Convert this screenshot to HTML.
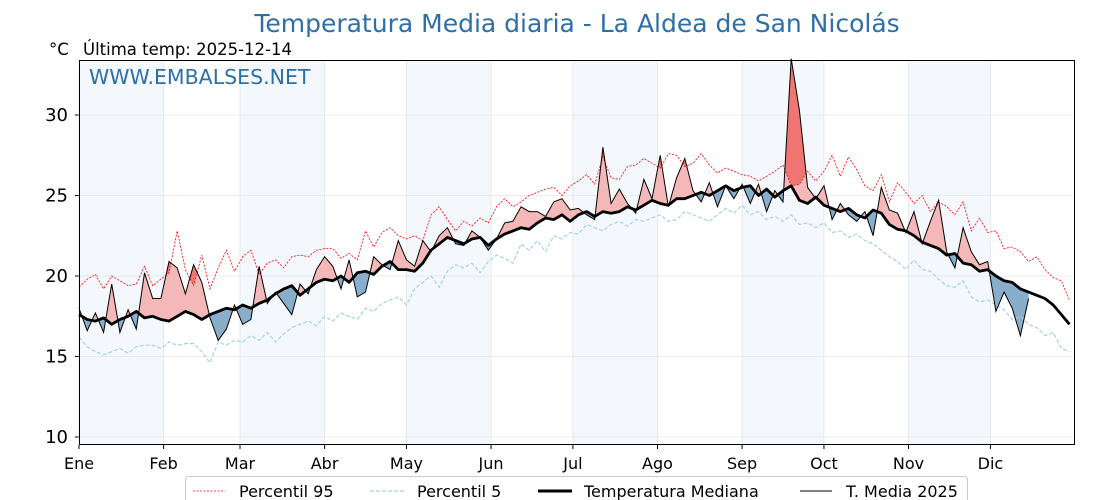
<!DOCTYPE html>
<html><head><meta charset="utf-8">
<style>
body{margin:0;background:#fff;}
svg{display:block;font-family:"DejaVu Sans","Liberation Sans",sans-serif;}
</style></head>
<body>
<svg id="chart" width="1120" height="500" viewBox="0 0 1120 500">
<text x="577" y="32" text-anchor="middle" font-size="25" fill="#2e6fa7">Temperatura Media diaria - La Aldea de San Nicolás</text>
<text x="49" y="55" font-size="16.5" fill="#000">°C</text>
<text x="83" y="55" font-size="16.5" fill="#000">Última temp: 2025-12-14</text>
<g id="plot"></g>
<text x="89" y="84" font-size="20.5" fill="#2e6fa7">WWW.EMBALSES.NET</text>
<g>
<rect x="185.5" y="476.5" width="782" height="30" rx="3" fill="#fff" stroke="#ccc"/>
<g><line x1="193" y1="491" x2="225" y2="491" stroke="red" stroke-width="0.8" stroke-dasharray="2,1.5"/><text x="239" y="497" font-size="16">Percentil 95</text></g>
<g><line x1="370" y1="491" x2="405" y2="491" stroke="#a6d2e0" stroke-width="1.2" stroke-dasharray="4,2"/><text x="417" y="497" font-size="16">Percentil 5</text></g>
<g><line x1="538" y1="491" x2="572" y2="491" stroke="#000" stroke-width="3"/><text x="584" y="497" font-size="16">Temperatura Mediana</text></g>
<g><line x1="800" y1="491" x2="832" y2="491" stroke="#000" stroke-width="1"/><text x="846" y="497" font-size="16">T. Media 2025</text></g>
</g>
</svg>
<script>
const monthLabels=["Ene","Feb","Mar","Abr","May","Jun","Jul","Ago","Sep","Oct","Nov","Dic"];
const monthStarts=[0,31,59,90,120,151,181,212,243,273,304,334];
const yTicks=[10,15,20,25,30];
const stepDays=3;
const median=[17.6,17.3,17.2,17.4,17.0,17.3,17.5,17.8,17.4,17.5,17.3,
17.2,17.5,17.8,17.6,17.3,17.6,17.8,18.0,17.9,18.2,
18.0,18.3,18.5,18.9,19.2,19.4,18.8,19.2,19.6,19.8,
19.7,20.0,19.6,20.2,20.3,20.1,20.6,20.9,20.4,20.4,
20.3,20.8,21.6,22.0,22.4,22.2,22.0,22.3,22.4,21.9,
22.3,22.6,22.8,23.0,22.9,23.3,23.6,23.5,23.8,23.4,
23.8,24.0,23.7,24.0,23.9,24.0,24.3,24.1,24.4,24.7,
24.5,24.4,24.8,24.8,25.0,25.2,25.0,25.3,25.6,25.3,
25.5,25.6,25.0,25.4,24.9,25.3,25.6,24.7,24.5,24.9,24.4,
24.2,24.0,24.2,23.8,23.6,24.1,23.9,23.2,22.9,22.8,
22.5,22.1,21.9,21.7,21.3,21.4,20.8,20.7,20.3,20.4,
20.0,19.7,19.6,19.2,19.0,18.8,18.6,18.2,17.6,17.0];
const p95=[19.3,19.8,20.1,19.2,20.0,19.7,19.4,19.5,20.6,19.4,19.8,
20.2,22.8,20.4,19.4,21.3,19.2,20.5,21.6,20.3,21.2,
21.6,20.1,20.8,21.0,20.5,21.2,21.3,21.2,21.6,21.7,
21.7,21.1,21.4,21.0,22.8,21.8,22.7,23.0,22.5,22.3,
22.5,22.2,23.8,24.3,23.5,22.8,23.4,23.1,23.6,23.3,
24.3,24.8,24.3,24.6,25.0,25.2,25.4,25.5,25.0,25.6,
25.9,26.3,25.7,27.4,26.1,26.0,26.8,26.9,27.3,27.0,
26.7,27.6,27.5,26.8,27.0,27.6,26.9,26.4,26.7,26.5,
26.3,26.2,25.9,26.2,26.5,26.9,25.6,25.7,26.5,25.9,26.5,
27.5,26.2,27.4,26.6,25.6,25.3,26.3,24.6,25.8,25.2,
24.5,25.0,24.0,24.6,24.3,23.8,24.6,22.8,23.6,22.7,
22.8,21.7,21.8,21.5,20.9,21.2,20.4,19.9,19.7,18.5];
const p5=[16.2,15.6,15.3,15.1,15.3,15.5,15.2,15.6,15.7,15.7,15.5,
15.9,15.7,15.8,15.8,15.3,14.6,15.9,15.7,16.0,15.9,
16.3,16.0,16.5,15.9,16.4,16.8,17.0,17.2,16.9,17.5,
17.2,17.7,17.5,17.3,18.0,17.8,18.3,18.5,18.7,18.2,
19.2,19.6,20.0,19.3,20.3,20.7,20.5,20.8,20.2,20.9,
21.3,21.1,20.8,22.0,21.6,22.2,21.5,22.5,22.3,22.7,
22.6,23.2,23.0,22.8,23.2,23.4,23.1,23.5,23.4,23.6,
23.8,23.4,23.5,24.0,23.8,23.6,23.4,23.8,24.2,23.9,
24.4,23.8,24.0,23.5,23.7,23.4,23.8,23.2,23.3,23.0,23.3,
22.7,22.8,22.4,22.6,22.2,22.0,21.6,21.2,20.9,20.4,
21.0,20.4,20.3,19.8,19.4,19.3,19.7,18.7,18.4,18.5,
18.2,17.9,17.3,17.5,17.0,16.8,16.3,16.5,15.5,15.3];
const t2025=[18.0,16.6,17.7,16.5,19.5,16.5,17.9,16.7,20.2,18.6,18.6,
20.9,20.5,18.9,20.7,19.6,17.4,16.0,16.7,18.2,17.0,
17.3,20.6,18.3,19.0,18.3,17.6,19.5,18.9,20.4,21.2,
20.6,19.2,21.0,18.7,19.0,21.2,20.7,20.4,22.2,21.0,
20.6,22.2,21.5,22.5,23.0,22.0,21.9,22.8,22.4,21.6,
22.3,23.3,23.4,24.3,24.0,24.0,23.7,24.6,24.8,24.1,
24.2,23.8,23.5,28.0,24.5,25.4,24.5,23.9,26.0,24.8,
27.5,24.3,26.1,27.3,25.3,24.6,25.8,24.3,25.6,24.8,
25.7,24.5,25.7,24.0,25.3,24.6,33.5,30.3,25.5,24.8,25.6,
23.5,24.5,23.8,23.4,24.0,22.5,25.5,24.1,23.9,22.7,
24.0,22.0,23.4,24.7,21.5,20.5,23.0,21.5,20.7,20.9,
17.8,19.0,18.0,16.3,18.6];

const L=79,R=1075,T=60,B=445;
const x=d=>L+d*(R-L)/365;
const y=v=>437-(v-10)*16.1;
const NS="http://www.w3.org/2000/svg";
const plot=document.getElementById('plot');
function mk(tag,attrs,parent){const e=document.createElementNS(NS,tag);for(const k in attrs)e.setAttribute(k,attrs[k]);(parent||plot).appendChild(e);return e;}
function pts(arr){return arr.map((v,i)=>[x(i*stepDays),y(v)]);}
function pathOf(p){return p.map((q,i)=>(i?'L':'M')+q[0].toFixed(1)+','+q[1].toFixed(1)).join('');}

for(let m=0;m<12;m+=2){
 const end=m+1<12?monthStarts[m+1]:365;
 const r=mk('rect',{x:x(monthStarts[m]),y:T,width:x(end)-x(monthStarts[m]),height:B-T,fill:'#f4f8fc'});
 
 
}
yTicks.forEach(v=>{
 const g=mk('line',{x1:L,x2:R,y1:y(v),y2:y(v),stroke:'#e6e6e6','stroke-width':0.8});
 
 
 const t=mk('text',{x:L-11,y:y(v)+6,'text-anchor':'end','font-size':18});
 t.textContent=v;
 
 
 mk('line',{x1:L-4,x2:L,y1:y(v),y2:y(v),stroke:'#000'});
});
monthStarts.forEach((d,i)=>{
 const g=mk('line',{x1:x(d),x2:x(d),y1:T,y2:B,stroke:'#e2e6ea','stroke-width':0.8});
 
 
 mk('line',{x1:x(d),x2:x(d),y1:B,y2:B+4,stroke:'#000'});
 const t=mk('text',{x:x(d),y:469,'text-anchor':'middle','font-size':16});
 t.textContent=monthLabels[i];
 
 
});

const defs=mk('defs',{});
const mp=pts(median), tp=pts(t2025), hp=pts(p95);
const lastX=tp[tp.length-1][0];
const ca=mk('clipPath',{id:'aboveMed'},defs);
mk('path',{d:pathOf(mp)+`L${R},${T}L${L},${T}Z`},ca);
const cb=mk('clipPath',{id:'belowMed'},defs);
mk('path',{d:pathOf(mp)+`L${R},${B}L${L},${B}Z`},cb);
const cp=mk('clipPath',{id:'aboveP95'},defs);
mk('path',{d:pathOf(hp)+`L${R},${T-20}L${L},${T-20}Z`},cp);
const mTrunc=mp.filter(q=>q[0]<=lastX+0.1);
const band=pathOf(tp)+mTrunc.slice().reverse().map(q=>'L'+q[0].toFixed(1)+','+q[1].toFixed(1)).join('')+'Z';
const fa=mk('path',{d:band,fill:'#f4b8b8','clip-path':'url(#aboveMed)'});


const fb=mk('path',{d:band,fill:'#88aecb','clip-path':'url(#belowMed)'});


const hTrunc=hp.filter(q=>q[0]<=lastX+0.1);
const band2=pathOf(tp)+hTrunc.slice().reverse().map(q=>'L'+q[0].toFixed(1)+','+q[1].toFixed(1)).join('')+'Z';
const fh=mk('path',{d:band2,fill:'#ef7673','clip-path':'url(#aboveP95)'});



const l95=mk('path',{d:pathOf(hp),fill:'none',stroke:'red','stroke-width':0.8,'stroke-dasharray':'2,1.5'});


const l5=mk('path',{d:pathOf(pts(p5)),fill:'none',stroke:'#a6d2e0','stroke-width':1.2,'stroke-dasharray':'4,2'});


const lm=mk('path',{d:pathOf(mp),fill:'none',stroke:'#000','stroke-width':2.8,'stroke-linejoin':'round'});


const lt=mk('path',{d:pathOf(tp),fill:'none',stroke:'#000','stroke-width':1});



const fr=mk('rect',{x:L+0.5,y:T+0.5,width:R-L-1,height:B-T-1,fill:'none',stroke:'#000','stroke-width':1});


</script>
</body></html>
